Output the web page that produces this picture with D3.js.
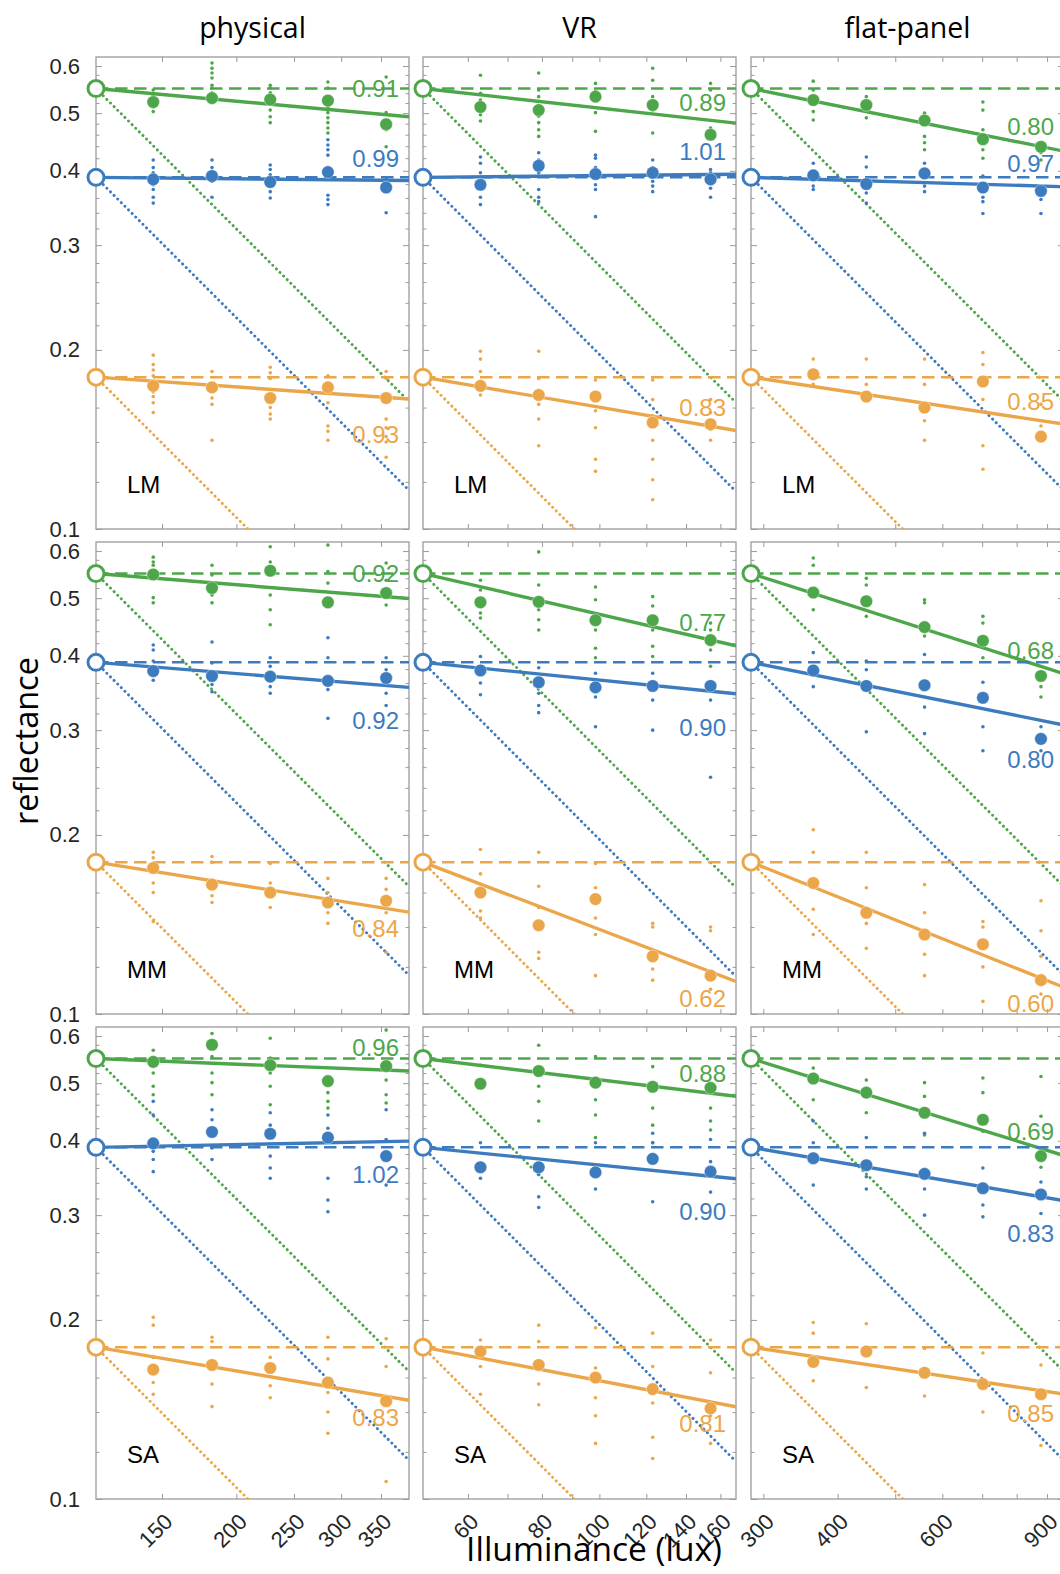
<!DOCTYPE html>
<html><head><meta charset="utf-8">
<script src="https://cdn.jsdelivr.net/npm/d3@7"></script>
<style>body{margin:0;background:#fff}svg{display:block}</style>
</head><body><svg id="c" width="1060" height="1574"></svg>
<script>
// ---------------- DATA ----------------
const conditions = ["physical", "VR", "flat-panel"];
const observers = ["LM", "MM", "SA"];
const surfaces = ["green", "blue", "orange"];
const refReflectance = [0.55, 0.39, 0.18];
const refLux = [116.2, 50.4, 286];
const xMaxLux = [390, 170, 961];
const luxLevels = [[145, 182, 228, 285, 357], [63, 79, 98.5, 123, 154], [364, 447, 560, 702, 879]];
const xTicks = [[150, 200, 250, 300, 350], [60, 70, 80, 90, 100, 120, 140, 160], [300, 400, 500, 600, 700, 800, 900]];
const xTickLabels = [["150", "200", "250", "300", "350"], ["60", "", "80", "", "100", "120", "140", "160"], ["300", "400", "", "600", "", "", "900"]];
const yMajorTicks = [0.1, 0.2, 0.3, 0.4, 0.5, 0.6];
const yMinorTicks = [0.12, 0.14, 0.16, 0.18, 0.22, 0.24, 0.26, 0.28, 0.32, 0.34, 0.36, 0.38, 0.42, 0.44, 0.46, 0.48, 0.52, 0.54, 0.56, 0.58];
const yMax = 0.6214;

// constancy index per observer: [condition][surface]
const indexLM = [[0.91, 0.99, 0.93], [0.89, 1.01, 0.83], [0.80, 0.97, 0.85]];
const indexMM = [[0.92, 0.92, 0.84], [0.77, 0.90, 0.62], [0.68, 0.80, 0.60]];
const indexSA = [[0.96, 1.02, 0.83], [0.88, 0.90, 0.81], [0.69, 0.83, 0.85]];
// reflectance level at which each index label sits
const labelLM = [[0.551, 0.420, 0.144], [0.522, 0.431, 0.160], [0.474, 0.412, 0.164]];
const labelMM = [[0.551, 0.312, 0.139], [0.455, 0.303, 0.106], [0.409, 0.268, 0.104]];
const labelSA = [[0.575, 0.351, 0.137], [0.520, 0.304, 0.134], [0.414, 0.279, 0.139]];

// mean matches: [condition][surface][level]
const meansLM = [
  [[.522, .530, .527, .525, .479], [.387, .392, .383, .398, .375], [.174, .173, .166, .173, .166]],
  [[.512, .506, .533, .516, .460], [.379, .408, .395, .397, .387], [.174, .168, .167, .151, .150]],
  [[.526, .516, .486, .452, .439], [.393, .380, .396, .375, .370], [.182, .167, .160, .177, .143]]
];
const meansMM = [
  [[.548, .520, .556, .492, .510], [.377, .370, .369, .363, .367], [.176, .165, .160, .154, .155]],
  [[.492, .493, .459, .459, .425], [.378, .361, .354, .356, .356], [.160, .141, .156, .125, .116]],
  [[.511, .494, .447, .424, .370], [.378, .356, .357, .340, .290], [.166, .148, .136, .131, .114]]
];
const meansSA = [
  [[.543, .580, .536, .504, .534], [.396, .414, .411, .405, .377], [.165, .168, .166, .157, .146]],
  [[.499, .524, .501, .493, .491], [.361, .361, .354, .373, .355], [.177, .168, .160, .153, .142]],
  [[.509, .482, .446, .434, .377], [.374, .364, .352, .333, .325], [.170, .177, .163, .156, .150]]
];

// individual settings: [condition][surface][level][...]
const dotsLM = [
  [
    [[.547, .536, .526, .512, .503], [.607, .595, .584, .573, .557, .551, .541, .530], [.557, .551, .541, .530, .520, .506, .493, .482], [.564, .551, .526, .512, .501, .491, .482, .472, .463], [.575, .501, .469, .439]],
    [[.417, .405, .397, .379, .372, .361, .353], [.417, .405, .397, .384, .361], [.409, .402, .394, .379, .369, .360], [.451, .442, .434, .425, .364, .358, .351], [.387, .379, .340]],
    [[.196, .189, .185, .181, .170, .167, .163, .157], [.184, .171, .166, .162, .141], [.187, .183, .179, .160, .156, .153], [.181, .163, .149, .146, .141], [.184, .179, .153, .148, .143, .140, .132]]
  ],
  [
    [[.579, .540, .526, .497, .485], [.584, .547, .533, .494, .482, .469, .457], [.561, .544, .501, .466], [.595, .568, .533, .506, .463], [.561, .547, .472, .469]],
    [[.422, .412, .397, .361, .351], [.429, .417, .397, .372, .361, .355], [.425, .420, .405, .379, .372, .335], [.417, .405, .384, .377, .369], [.402, .397, .374, .361]],
    [[.199, .193, .184, .175, .168], [.199, .179, .171, .162, .153, .138], [.178, .158, .148, .131, .125], [.178, .165, .155, .141, .131, .121, .112], [.165, .157, .147, .141]]
  ],
  [
    [[.566, .547, .503, .487], [.533, .506, .491], [.500, .457, .446, .434], [.522, .506, .469, .434, .420], [.429, .417]],
    [[.412, .377, .372], [.422, .406, .367, .353], [.412, .377, .369], [.392, .361, .355, .339], [.358, .339]],
    [[.193, .175], [.193, .175, .164], [.193, .175, .152, .141], [.198, .189, .175, .165, .138, .126], [.162, .149, .141]]
  ]
];
const dotsMM = [
  [
    [[.586, .575, .568, .501, .491], [.568, .547, .506, .491], [.610, .575, .506, .478, .451], [.614, .554, .530, .485], [.573, .536, .487]],
    [[.417, .409, .392, .364], [.422, .389, .358, .348], [.397, .384, .355, .346], [.429, .397, .351, .314], [.397, .379, .346, .330]],
    [[.187, .183, .166, .160, .143], [.184, .180, .158, .154], [.179, .166, .151], [.169, .160, .148, .142], [.169, .162, .148, .127]]
  ],
  [
    [[.536, .516, .472, .463], [.598, .526, .478, .460, .442], [.522, .497, .442, .412, .397], [.503, .485, .442, .415, .399], [.454, .442, .409, .384]],
    [[.399, .360, .344], [.382, .346, .330, .321], [.374, .341, .304], [.374, .337, .300], [.337, .250]],
    [[.189, .172, .149, .145], [.187, .164, .151, .127, .124], [.179, .163, .145, .136, .116], [.142, .140, .119, .114], [.140, .138, .110]]
  ],
  [
    [[.584, .568, .478], [.540, .526, .466], [.497, .491, .432], [.466, .454, .397], [.355, .341]],
    [[.405, .355], [.392, .379, .298], [.402, .328, .296], [.361, .304, .277], [.304, .277]],
    [[.204, .187, .150, .136], [.187, .163, .142, .129], [.165, .148, .126, .116], [.143, .140, .120, .105], [.155, .138, .125, .108]]
  ]
];
const dotsSA = [
  [
    [[.568, .520, .494, .478], [.606, .554, .520, .501, .478], [.595, .551, .520, .494, .460], [.482, .466, .454], [.614, .506, .478, .463]],
    [[.466, .442, .384, .372, .355], [.451, .434, .389, .372], [.446, .425, .377, .360, .346], [.442, .420, .346, .318, .304], [.451, .402, .337]],
    [[.202, .196, .173, .157, .150], [.187, .184, .156, .143], [.173, .155, .148], [.187, .172, .151, .140, .129], [.186, .167, .107]]
  ],
  [
    [[.536, .491], [.579, .494, .466, .432], [.554, .469, .442, .405], [.533, .454, .425, .397], [.454, .432, .417]],
    [[.397, .346], [.351, .322, .309], [.397, .332], [.412, .397, .316], [.402, .369, .328]],
    [[.185, .167, .150], [.196, .184, .156, .144], [.194, .166, .148, .138, .124], [.190, .167, .145, .127, .117], [.185, .163, .138, .124]]
  ],
  [
    [[.530, .469], [.506, .446], [.501, .475, .409], [.510, .482, .415], [.513, .440, .361]],
    [[.432, .397, .337], [.405, .348, .332], [.412, .332, .300], [.360, .312, .298], [.341, .302]],
    [[.198, .190, .158], [.197, .154], [.179, .149], [.176, .140], [.168, .123]]
  ]
];

const indexByObs = [indexLM, indexMM, indexSA];
const labelByObs = [labelLM, labelMM, labelSA];
const meansByObs = [meansLM, meansMM, meansSA];
const dotsByObs = [dotsLM, dotsMM, dotsSA];

// ---------------- LAYOUT / STYLE ----------------
const colors = ["#4ea64b", "#3d7bbf", "#eca64a"];
const panelW = 313, panelH = 472;
const colX = [96, 423, 751], rowY = [57, 542, 1027];
const boxColor = "#9a9a9a", textColor = "#262626";
const tickFont = "'Liberation Sans', Arial, Helvetica, sans-serif";
const titleFont = "'Open Sans', 'Noto Sans', sans-serif";

const svg = d3.select("#c");
const y = d3.scaleLog().domain([0.1, yMax]).range([panelH, 0]);

observers.forEach((obs, r) => {
  conditions.forEach((cond, c) => {
    const g = svg.append("g").attr("transform", `translate(${colX[c]},${rowY[r]})`);
    const x = d3.scaleLog().domain([refLux[c], xMaxLux[c]]).range([0, panelW]);
    const clipId = `clip-${r}-${c}`;
    g.append("clipPath").attr("id", clipId).append("rect")
      .attr("width", panelW).attr("height", panelH);

    // box
    g.append("rect").attr("width", panelW).attr("height", panelH)
      .attr("fill", "none").attr("stroke", boxColor).attr("stroke-width", 1.3);

    // ticks
    const addAxis = (axis, tx, ty, labels) => {
      const a = g.append("g").attr("transform", `translate(${tx},${ty})`).call(axis);
      a.select(".domain").remove();
      a.selectAll(".tick line").attr("stroke", boxColor).attr("stroke-width", 1);
      a.selectAll("text").attr("fill", textColor).attr("font-size", 22).attr("font-family", tickFont);
      if (!labels) a.selectAll("text").remove();
      return a;
    };
    addAxis(d3.axisLeft(y).tickValues(yMajorTicks).tickSize(-6).tickPadding(16).tickFormat(d3.format(".1f")), 0, 0, c === 0);
    addAxis(d3.axisRight(y).tickValues(yMajorTicks).tickSize(-6), panelW, 0, false);
    addAxis(d3.axisLeft(y).tickValues(yMinorTicks).tickSize(-3.5), 0, 0, false);
    addAxis(d3.axisRight(y).tickValues(yMinorTicks).tickSize(-3.5), panelW, 0, false);
    addAxis(d3.axisTop(x).tickValues(xTicks[c]).tickSize(-5), 0, 0, false);
    addAxis(d3.axisBottom(x).tickValues(xTicks[c]).tickSize(-5), 0, panelH, false);

    if (r === observers.length - 1) {
      xTicks[c].forEach((t, i) => {
        if (!xTickLabels[c][i]) return;
        g.append("text")
          .attr("transform", `translate(${x(t) + 12},${panelH + 24}) rotate(-45)`)
          .attr("text-anchor", "end").attr("font-size", 22).attr("font-family", tickFont)
          .attr("fill", textColor).text(xTickLabels[c][i]);
      });
    }

    const lines = g.append("g").attr("clip-path", `url(#${clipId})`);
    const xr = refLux[c], xm = xMaxLux[c];
    surfaces.forEach((s, si) => {
      const ref = refReflectance[si];
      const k = indexByObs[r][c][si];
      const col = colors[si];
      // luminance-match (dotted, slope -1)
      lines.append("line")
        .attr("x1", x(xr)).attr("y1", y(ref)).attr("x2", x(xm)).attr("y2", y(ref * xr / xm))
        .attr("stroke", col).attr("stroke-width", 2.9).attr("stroke-linecap", "round")
        .attr("stroke-dasharray", "0.1 5");
      // perfect constancy (dashed)
      lines.append("line")
        .attr("x1", x(xr)).attr("y1", y(ref)).attr("x2", x(xm)).attr("y2", y(ref))
        .attr("stroke", col).attr("stroke-width", 2.5).attr("stroke-dasharray", "12.5 6.5");
      // fitted line
      lines.append("line")
        .attr("x1", x(xr)).attr("y1", y(ref)).attr("x2", x(xm)).attr("y2", y(ref * Math.pow(xm / xr, k - 1)))
        .attr("stroke", col).attr("stroke-width", 3.4);
    });

    surfaces.forEach((s, si) => {
      const col = colors[si];
      dotsByObs[r][c][si].forEach((vals, li) => {
        g.selectAll(null).data(vals).enter().append("circle")
          .attr("cx", x(luxLevels[c][li])).attr("cy", d => y(d)).attr("r", 1.8).attr("fill", col);
      });
      g.selectAll(null).data(meansByObs[r][c][si]).enter().append("circle")
        .attr("cx", (d, li) => x(luxLevels[c][li])).attr("cy", d => y(d)).attr("r", 6.3)
        .attr("fill", col).attr("stroke", "#fff").attr("stroke-opacity", 0.5).attr("stroke-width", 0.8);
      g.append("circle").attr("cx", x(xr)).attr("cy", y(refReflectance[si])).attr("r", 8)
        .attr("fill", "#fff").attr("stroke", col).attr("stroke-width", 3);
      g.append("text").attr("x", panelW - 10).attr("y", y(labelByObs[r][c][si]))
        .attr("text-anchor", "end").attr("dominant-baseline", "central")
        .attr("font-size", 24).attr("font-family", tickFont).attr("fill", col)
        .text(indexByObs[r][c][si].toFixed(2));
    });

    g.append("text").attr("x", 31).attr("y", panelH - 45).attr("dominant-baseline", "central")
      .attr("font-size", 24).attr("font-family", tickFont).attr("fill", "#000").text(obs);

    if (r === 0) {
      svg.append("text").attr("x", colX[c] + panelW / 2).attr("y", 38)
        .attr("text-anchor", "middle").attr("font-size", 28.5).attr("font-family", titleFont)
        .attr("fill", "#000").text(cond);
    }
  });
});

svg.append("text").attr("transform", "translate(38,741) rotate(-90)")
  .attr("text-anchor", "middle").attr("font-size", 32.5).attr("font-family", titleFont)
  .attr("fill", "#000").text("reflectance");
svg.append("text").attr("x", 594).attr("y", 1561)
  .attr("text-anchor", "middle").attr("font-size", 33.5).attr("font-family", titleFont)
  .attr("fill", "#000").text("Illuminance (lux)");
</script></body></html>
